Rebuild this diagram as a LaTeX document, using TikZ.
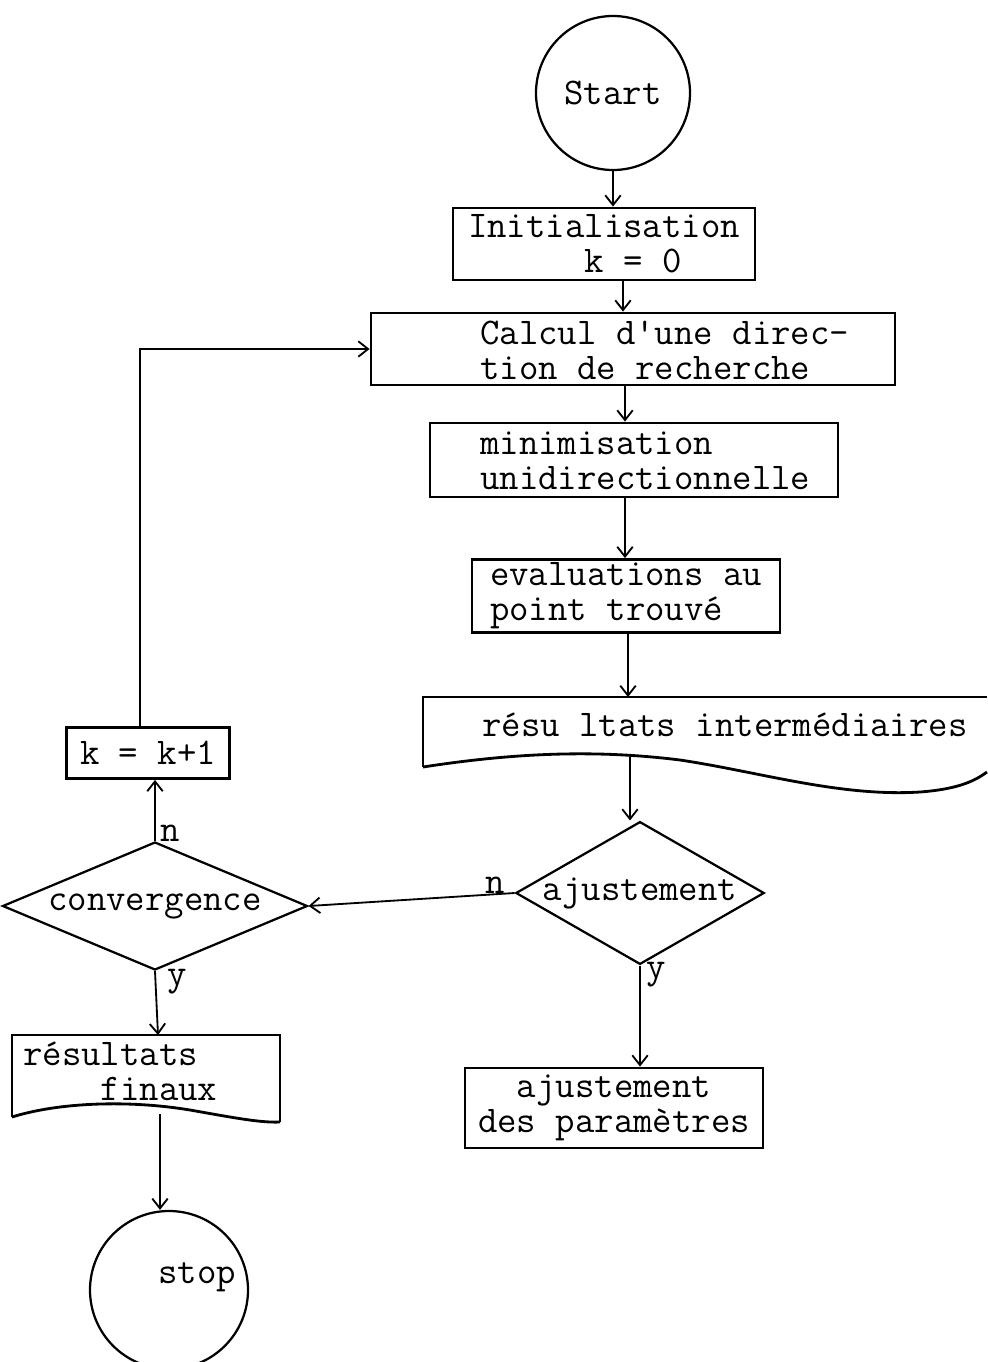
\documentclass[tikz,border=0pt]{standalone}
\usepackage{fontspec}
\usetikzlibrary{arrows.meta,shapes.geometric}
\begin{document}
\begin{tikzpicture}[x=0.025cm,y=-0.025cm]
		\newcommand{\px}{0.025cm} % one pixel of the scan
		\newcommand{\boxlw}{2pt} % outlines of the boxes
		\newcommand{\linelw}{1.3pt} % connectors

		% styles
		\tikzset{
			txt/.style={font=\ttfamily\fontsize{26.8}{25}\selectfont, inner sep=0pt, align=left},
			box/.style={draw, rectangle, line width=\boxlw, inner sep=0pt, txt},
			term/.style={draw, circle, line width=1.6pt, inner sep=0pt, txt},
			test/.style={draw, diamond, line width=1.6pt, inner sep=0pt, txt},
			flow/.style={line width=\linelw, -{Straight Barb[length=7pt,width=11pt]}}
		}
		\useasboundingbox (0,0) rectangle (987,1362);

		% terminals
		\node[term, minimum size=154*\px] (start) at (613,93) {Start};
		\node[term, minimum size=158*\px] (stop) at (169,1290) {};
		\node[txt] (stopT) at (197,1277) {stop};

		% boxes
		\node[box, align=left, minimum width=302*\px, minimum height=72*\px] (init) at (604,244) {Initialisation\\\phantom{Initia}k = 0};
		\node[box, minimum width=524*\px, minimum height=72*\px] (calc) at (633,349) {};
		\node[txt, anchor=west] (calcT) at (480,350) {Calcul d'une direc-\\tion de recherche};
		\node[box, minimum width=408*\px, minimum height=74*\px] (mini) at (634,460) {};
		\node[txt, anchor=west] (miniT) at (480,461) {minimisation\\unidirectionnelle};
		\node[box, minimum width=308*\px, minimum height=73*\px] (eval) at (626,596) {evaluations au\\point trouvé};
		\node[box, minimum width=163*\px, minimum height=51*\px] (kbox) at (148,753) {k = k+1};
		\node[box, align=center, minimum width=298*\px, minimum height=80*\px] (param) at (614,1108) {ajustement\\des paramètres};

		% documents
		\draw[line width=\boxlw] (423,767) -- (423,697) -- (987,697);
		\draw[line width=\boxlw] (423,767) .. controls (520,752) and (600,750) .. (680,760)
			.. controls (760,772) and (840,797) .. (920,792) .. controls (960,789) and (976,780) .. (987,772);
		\node[txt, anchor=west] (intermT) at (482,725) {résu ltats intermédiaires};
		\coordinate (intermN) at (628,697);
		\coordinate (intermS) at (630,756);

		\draw[line width=\boxlw] (12,1117) -- (12,1035) -- (280,1035) -- (280,1122);
		\draw[line width=\boxlw] (12,1117) .. controls (60,1102) and (130,1100) .. (190,1110)
			.. controls (230,1117) and (260,1123) .. (280,1122);
		\node[txt, anchor=west] (finT) at (23,1071) {résultats\\\phantom{xxxx}finaux};
		\coordinate (finN) at (158,1035);
		\coordinate (finS) at (160,1114);

		% tests
		\node[test, aspect=1.74, minimum width=243*\px, minimum height=140*\px] (ajust) at (640,893) {ajustement};
		\node[test, aspect=2.38, minimum width=305*\px, minimum height=128*\px] (conv) at (155,906) {convergence};
		\node[txt] (ajustN) at (495,885) {n};
		\node[txt] (ajustY) at (656,975) {y};
		\node[txt] (convN) at (170,833) {n};
		\node[txt] (convY) at (177,982) {y};

		% connectors
		\draw[flow] (start) -- (start |- init.north);
		\draw[flow] (623,0 |- init.south) -- (623,0 |- calc.north);
		\draw[flow] (625,0 |- calc.south) -- (625,0 |- mini.north);
		\draw[flow] (625,0 |- mini.south) -- (625,0 |- eval.north);
		\draw[flow] (628,0 |- eval.south) -- (intermN);
		\draw[flow] (intermS) -- (intermS |- ajust.north);
		\draw[flow] (ajust.south) -- (ajust.south |- param.north);
		\draw[flow] (ajust.west) -- (conv.east);
		\draw[flow] (conv.north) -- (conv.north |- kbox.south);
		\draw[flow] (140,0 |- kbox.north) -- (140,0 |- calc.west) -- (calc.west);
		\draw[flow] (conv.south) -- (finN);
		\draw[flow] (finS) -- (finS |- stop.north);
\end{tikzpicture}
\end{document}
